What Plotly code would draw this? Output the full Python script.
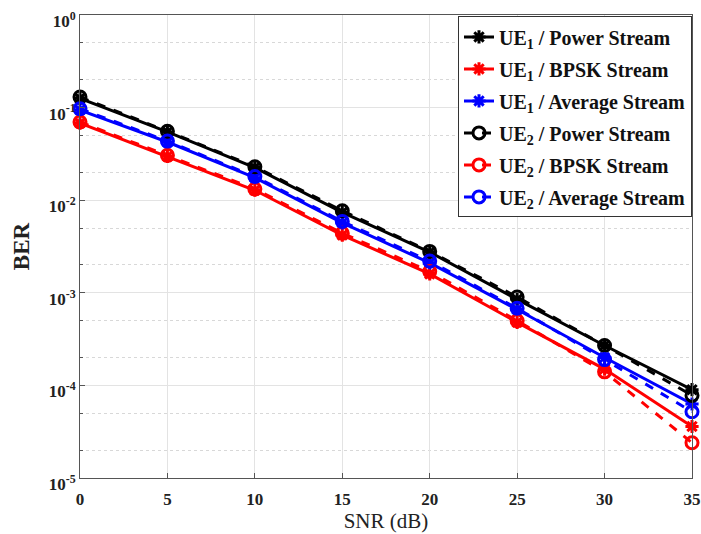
import plotly.graph_objects as go

snr = [0, 5, 10, 15, 20, 25, 30, 35]

ue1_power = [0.126, 0.0546, 0.0225, 0.0074, 0.00275, 0.00085, 0.00027, 9.0e-5]
ue1_bpsk = [0.068, 0.0298, 0.0128, 0.0042, 0.0016, 0.00048, 0.00015, 3.6e-5]
ue1_avg = [0.094, 0.0425, 0.0175, 0.0057, 0.0021, 0.00066, 0.00020, 6.3e-5]
ue2_power = [0.130, 0.0555, 0.0230, 0.0077, 0.0028, 0.00090, 0.00027, 7.8e-5]
ue2_bpsk = [0.070, 0.0305, 0.0132, 0.0044, 0.0017, 0.00050, 0.00014, 2.4e-5]
ue2_avg = [0.097, 0.0435, 0.0180, 0.0059, 0.0022, 0.00068, 0.00019, 5.2e-5]

names = [
    "UE<sub>1</sub> / Power Stream",
    "UE<sub>1</sub> / BPSK Stream",
    "UE<sub>1</sub> / Average Stream",
    "UE<sub>2</sub> / Power Stream",
    "UE<sub>2</sub> / BPSK Stream",
    "UE<sub>2</sub> / Average Stream",
]
series = [ue1_power, ue1_bpsk, ue1_avg, ue2_power, ue2_bpsk, ue2_avg]
colors = ["#000000", "#ff0000", "#0000ff", "#000000", "#ff0000", "#0000ff"]

ytick_vals = [1, 0.1, 0.01, 0.001, 0.0001, 0.00001]
ytick_text = ["10<sup>0</sup>", "10<sup>-1</sup>", "10<sup>-2</sup>",
              "10<sup>-3</sup>", "10<sup>-4</sup>", "10<sup>-5</sup>"]

fig = go.Figure()
for i, (nm, ys, c) in enumerate(zip(names, series, colors)):
    ue1 = i < 3
    fig.add_trace(go.Scatter(
        x=snr, y=ys, name=nm, mode="lines+markers", cliponaxis=False,
        legendgroup="g%d" % i,
        line=dict(color=c, width=3, dash="solid" if ue1 else "dash"),
        marker=dict(symbol="asterisk-open" if ue1 else "circle-open",
                    size=11 if ue1 else 12, color=c,
                    line=dict(color=c, width=3)),
    ))

font_family = "Liberation Serif, DejaVu Serif, serif"
fig.update_layout(
    width=701, height=534,
    margin=dict(l=80, r=9, t=15, b=56, autoexpand=False),
    paper_bgcolor="white", plot_bgcolor="white",
    font=dict(family=font_family, color="#222222"),
    legend=dict(
        x=1.0, y=0.997, xanchor="right", yanchor="top",
        bgcolor="white", bordercolor="#333333", borderwidth=1,
        font=dict(size=20, family=font_family, color="#111111", weight="bold"),
        tracegroupgap=3, itemwidth=30,
    ),
    xaxis=dict(
        range=[0, 35], tickvals=snr, ticks="inside", ticklen=5,
        tickcolor="#555555", ticklabeloverflow="allow", ticklabelstandoff=6,
        showline=True, linecolor="#555555", linewidth=1, mirror=True,
        showgrid=True, gridcolor="#e3e3e3", gridwidth=1, zeroline=False,
        tickfont=dict(size=17, family=font_family, color="#222222", weight="bold"),
        title=dict(text="SNR (dB)", font=dict(size=21, family=font_family, color="#222222"),
                   standoff=0),
    ),
    yaxis=dict(
        type="log", range=[-5, 0], tickvals=ytick_vals, ticktext=ytick_text,
        ticks="inside", ticklen=5, tickcolor="#555555", ticklabeloverflow="allow",
        ticklabelshift=6,
        showline=True, linecolor="#555555", linewidth=1, mirror=True,
        showgrid=True, gridcolor="#e3e3e3", gridwidth=1, zeroline=False,
        minor=dict(showgrid=True, gridcolor="#d8d8d8", griddash="dot",
                   ticks="inside", ticklen=3, tickcolor="#555555"),
        tickfont=dict(size=17, family=font_family, color="#222222", weight="bold"),
        title=dict(text="BER", font=dict(size=23, family=font_family, color="#222222",
                                         weight="bold"), standoff=12),
    ),
)

fig.write_html("out.html", config={"displayModeBar": False},
               post_script="document.body.style.margin='0';document.body.style.overflow='hidden';")
